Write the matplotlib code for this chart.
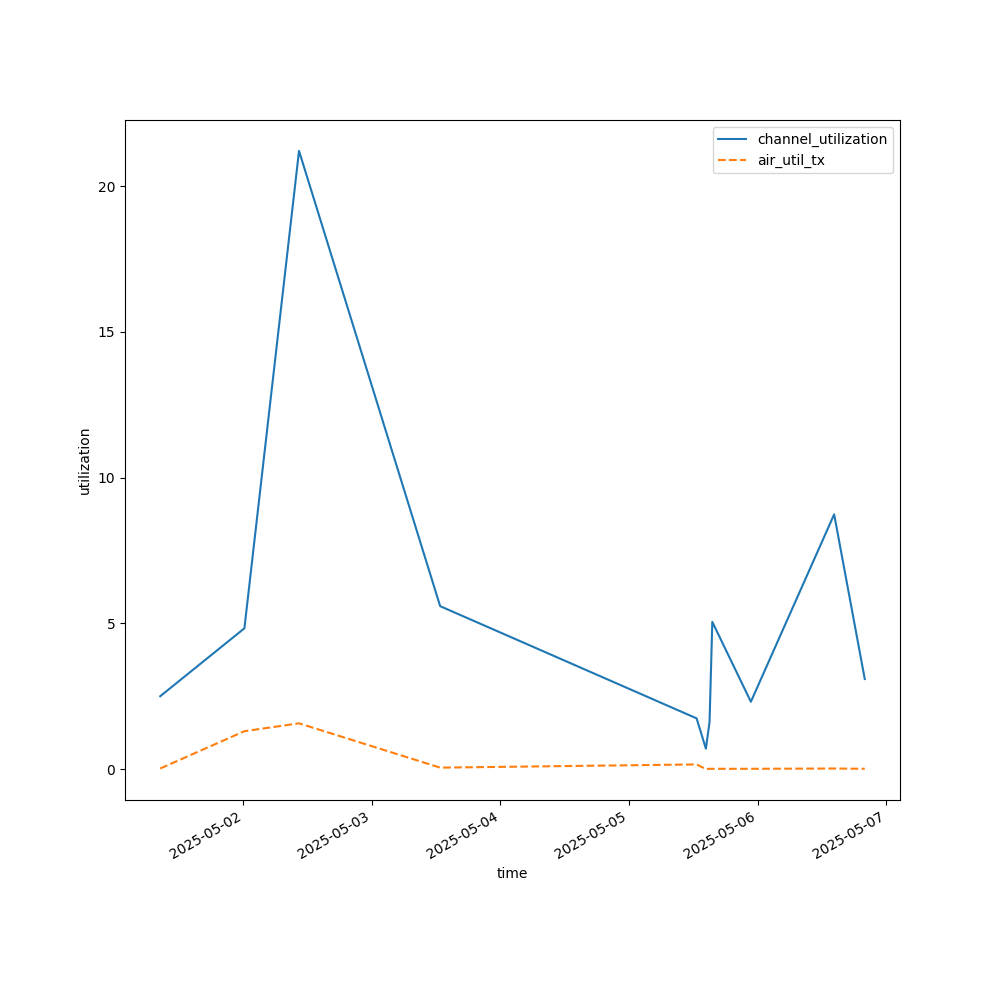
import matplotlib
matplotlib.use("Agg")
import matplotlib.pyplot as plt
import pandas as pd

times = [
    "2025-05-01 08:28", "2025-05-02 00:11", "2025-05-02 10:23", "2025-05-03 12:44",
    "2025-05-05 12:37", "2025-05-05 14:21", "2025-05-05 15:02", "2025-05-05 15:33",
    "2025-05-05 22:45", "2025-05-06 14:18", "2025-05-06 20:01",
]
channel_utilization = [2.50, 4.83, 21.21, 5.59, 1.74, 0.70, 1.62, 5.05, 2.31, 8.74, 3.09]
air_util_tx = [0.02, 1.30, 1.57, 0.05, 0.16, 0.00, 0.01, 0.01, 0.01, 0.02, 0.01]

t = pd.to_datetime(times)

fig, ax = plt.subplots(figsize=(10, 10), dpi=100)
ax.plot(t, channel_utilization, label="channel_utilization", color="#1f77b4")
ax.plot(t, air_util_tx, label="air_util_tx", color="#ff7f0e", linestyle="--")
ax.set_xlabel("time")
ax.set_ylabel("utilization")
ax.legend(loc="upper right")
fig.autofmt_xdate()
fig.subplots_adjust(left=0.125, right=0.9, bottom=0.2, top=0.88)
fig.savefig("out.png", dpi=100)
